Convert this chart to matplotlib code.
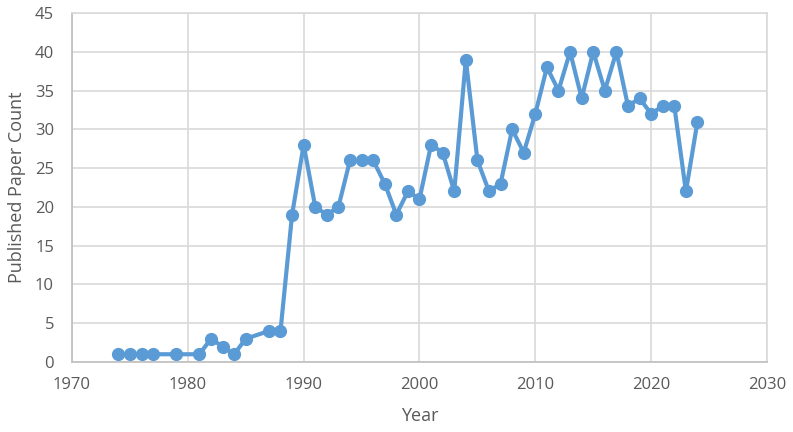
import numpy as np
import matplotlib.pyplot as plt

plt.rcParams['font.family'] = ['Open Sans', 'DejaVu Sans']

years = [1974, 1975, 1976, 1977, 1979, 1981, 1982, 1983, 1984, 1985, 1987, 1988,
         1989, 1990, 1991, 1992, 1993, 1994, 1995, 1996, 1997, 1998, 1999, 2000,
         2001, 2002, 2003, 2004, 2005, 2006, 2007, 2008, 2009, 2010, 2011, 2012,
         2013, 2014, 2015, 2016, 2017, 2018, 2019, 2020, 2021, 2022, 2023, 2024]
counts = [1, 1, 1, 1, 1, 1, 3, 2, 1, 3, 4, 4,
          19, 28, 20, 19, 20, 26, 26, 26, 23, 19, 22, 21,
          28, 27, 22, 39, 26, 22, 23, 30, 27, 32, 38, 35,
          40, 34, 40, 35, 40, 33, 34, 32, 33, 33, 22, 31]

fig = plt.figure(figsize=(7.93, 4.32), dpi=100)
ax = fig.add_axes([0.0908, 0.162, 0.8764, 0.808])

ax.plot(years, counts, color='#5B9BD5', linewidth=3, marker='o', markersize=8.5)

ax.set_xlim(1970, 2030)
ax.set_ylim(0, 45)
ax.set_xticks(np.arange(1970, 2031, 10))
ax.set_yticks(np.arange(0, 46, 5))
ax.grid(True, color='#D9D9D9', linewidth=1.2)
ax.set_axisbelow(True)
for s in ax.spines.values():
    s.set_color('#D9D9D9')
    s.set_linewidth(1.2)
ax.spines['bottom'].set_color('#BFBFBF')
ax.spines['left'].set_color('#BFBFBF')
ax.tick_params(length=0, labelsize=12, colors='#595959')
ax.tick_params(axis='x', pad=11)
ax.tick_params(axis='y', pad=13)

ax.set_xlabel('Year', fontsize=13, color='#595959', labelpad=10)
ax.set_ylabel('Published Paper Count', fontsize=13, color='#595959', labelpad=6)

fig.savefig('out.png', dpi=100)
